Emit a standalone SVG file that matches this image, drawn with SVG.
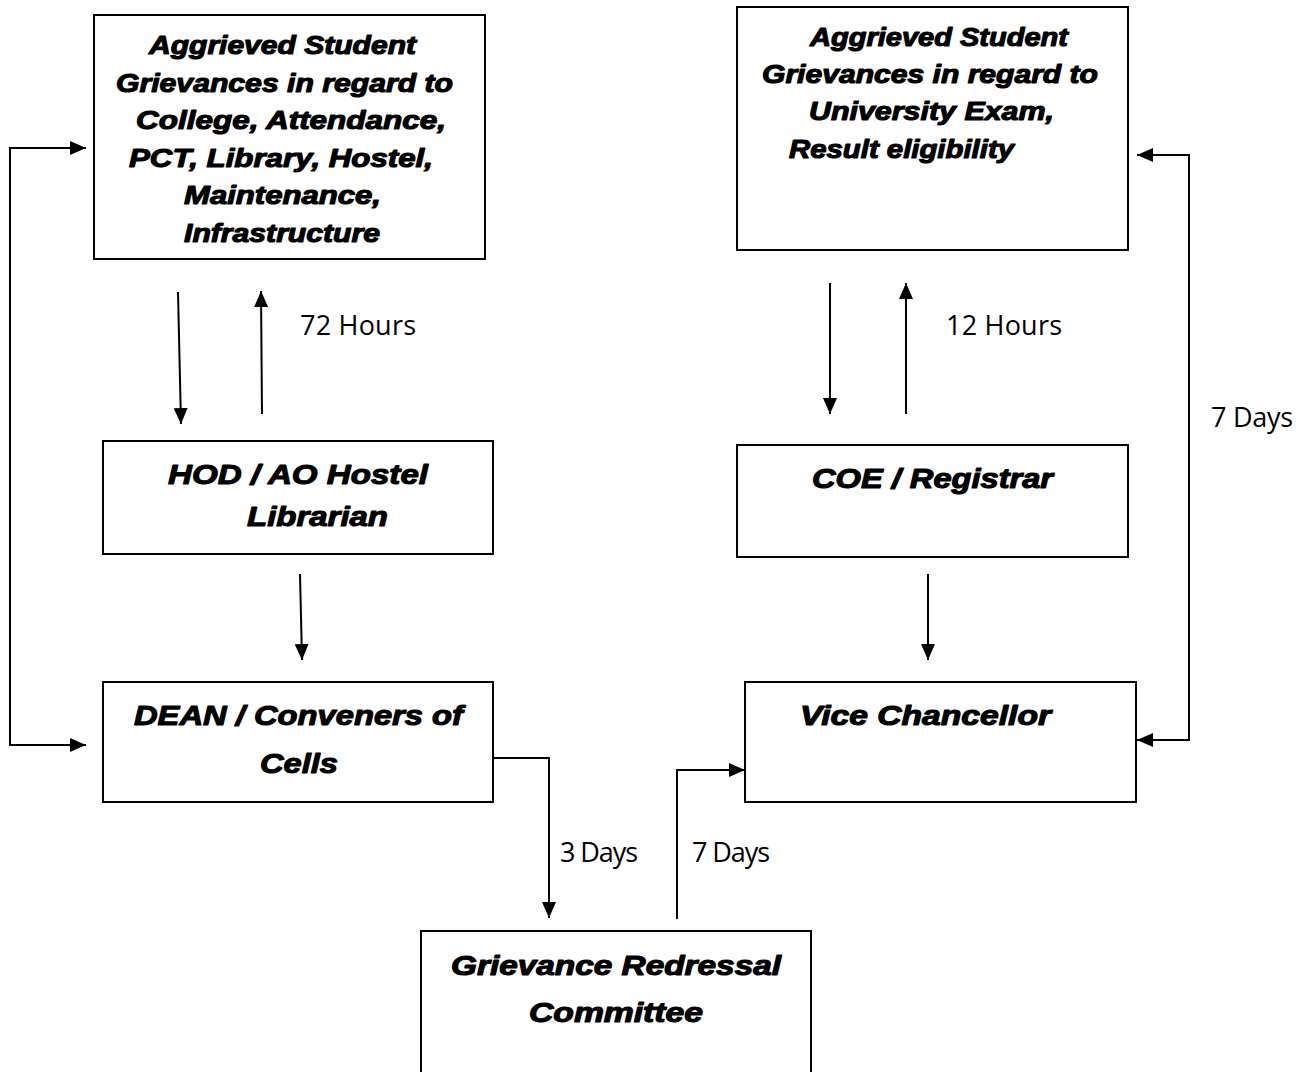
<svg xmlns="http://www.w3.org/2000/svg" width="1304" height="1072" viewBox="0 0 1304 1072">
<style>
.box{fill:#fff;stroke:#000;stroke-width:2}
.t{font-family:"Liberation Sans",Arial,sans-serif;font-weight:bold;font-style:italic;fill:#000;stroke:#000;stroke-width:1.1;stroke-linejoin:round}
.l{font-family:"Open Sans","Liberation Sans",sans-serif;font-size:27px;fill:#000}
.c{fill:none;stroke:#000;stroke-width:2}
</style>
<defs>
<marker id="ah" viewBox="0 0 16 14" refX="16" refY="7" markerWidth="16" markerHeight="14" markerUnits="userSpaceOnUse" orient="auto-start-reverse">
<path d="M0,0 L16,7 L0,14 Z" fill="#000"/>
</marker>
</defs>
<rect width="1304" height="1072" fill="#fff"/>
<g id="connectors">
<path class="c" d="M86,148 H10 V745 H86" marker-start="url(#ah)" marker-end="url(#ah)"/>
<path class="c" d="M1137,155 H1189 V740 H1137" marker-start="url(#ah)" marker-end="url(#ah)"/>
<path class="c" d="M178,292 L181,424" marker-end="url(#ah)"/>
<path class="c" d="M262,414 L261,291" marker-end="url(#ah)"/>
<path class="c" d="M830,283 V414" marker-end="url(#ah)"/>
<path class="c" d="M906,414 V283" marker-end="url(#ah)"/>
<path class="c" d="M300,574 L302,660" marker-end="url(#ah)"/>
<path class="c" d="M928,574 V660" marker-end="url(#ah)"/>
<path class="c" d="M493,758 H549 V918" marker-end="url(#ah)"/>
<path class="c" d="M677,919 V770 H745" marker-end="url(#ah)"/>
<text class="l" x="300" y="335" textLength="116">72 Hours</text>
<text class="l" x="946" y="335" textLength="116">12 Hours</text>
<text class="l" x="1211" y="427" textLength="82">7 Days</text>
<text class="l" x="560" y="862" textLength="78">3 Days</text>
<text class="l" x="692" y="862" textLength="78">7 Days</text>
</g>
<g id="college-grievance">
<rect class="box" x="94" y="15" width="391" height="244"/>
<g class="t" font-size="25">
<text x="149" y="54" textLength="267" lengthAdjust="spacingAndGlyphs">Aggrieved Student</text>
<text x="116" y="92" textLength="337" lengthAdjust="spacingAndGlyphs">Grievances in regard to</text>
<text x="136" y="129" textLength="310" lengthAdjust="spacingAndGlyphs">College, Attendance,</text>
<text x="129" y="167" textLength="304" lengthAdjust="spacingAndGlyphs">PCT, Library, Hostel,</text>
<text x="184" y="204" textLength="197" lengthAdjust="spacingAndGlyphs">Maintenance,</text>
<text x="184" y="242" textLength="196" lengthAdjust="spacingAndGlyphs">Infrastructure</text>
</g>
</g>
<g id="university-grievance">
<rect class="box" x="737" y="7" width="391" height="243"/>
<g class="t" font-size="25">
<text x="810" y="46" textLength="258" lengthAdjust="spacingAndGlyphs">Aggrieved Student</text>
<text x="762" y="83" textLength="336" lengthAdjust="spacingAndGlyphs">Grievances in regard to</text>
<text x="809" y="120" textLength="245" lengthAdjust="spacingAndGlyphs">University Exam,</text>
<text x="789" y="158" textLength="225" lengthAdjust="spacingAndGlyphs">Result eligibility</text>
</g>
</g>
<g id="hod">
<rect class="box" x="103" y="441" width="390" height="113"/>
<g class="t" font-size="28">
<text x="168" y="484" textLength="260" lengthAdjust="spacingAndGlyphs">HOD / AO Hostel</text>
<text x="247" y="526" textLength="141" lengthAdjust="spacingAndGlyphs">Librarian</text>
</g>
</g>
<g id="coe">
<rect class="box" x="737" y="445" width="391" height="112"/>
<text class="t" font-size="27" x="812" y="488" textLength="241" lengthAdjust="spacingAndGlyphs">COE / Registrar</text>
</g>
<g id="dean">
<rect class="box" x="103" y="682" width="390" height="120"/>
<g class="t" font-size="28">
<text x="134" y="725" textLength="329" lengthAdjust="spacingAndGlyphs">DEAN / Conveners of</text>
<text x="260" y="773" textLength="78" lengthAdjust="spacingAndGlyphs">Cells</text>
</g>
</g>
<g id="vice-chancellor">
<rect class="box" x="745" y="682" width="391" height="120"/>
<text class="t" font-size="27" x="800" y="725" textLength="251" lengthAdjust="spacingAndGlyphs">Vice Chancellor</text>
</g>
<g id="grievance-committee">
<rect class="box" x="421" y="931" width="390" height="160"/>
<g class="t" font-size="27">
<text x="451" y="975" textLength="330" lengthAdjust="spacingAndGlyphs">Grievance Redressal</text>
<text x="529" y="1022" textLength="174" lengthAdjust="spacingAndGlyphs">Committee</text>
</g>
</g>
</svg>
